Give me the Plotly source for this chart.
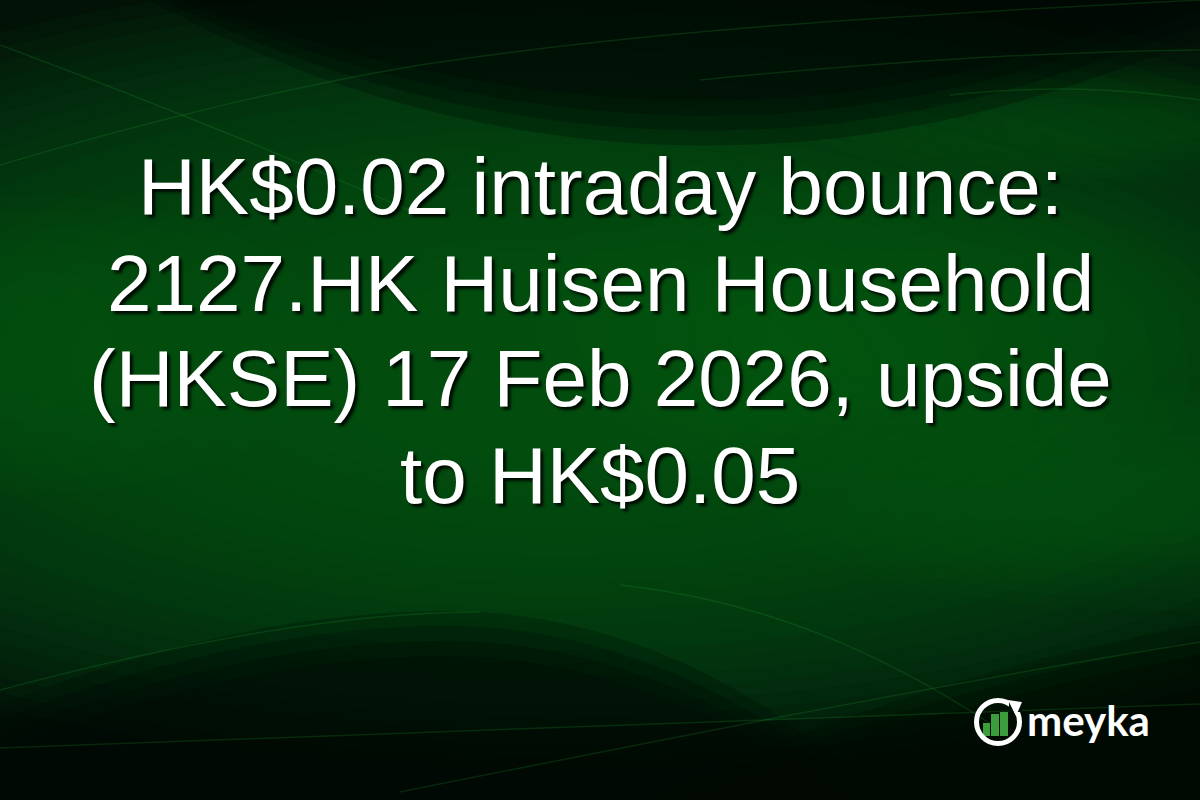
#!/usr/bin/env python3
"""
Meyka headline card: 2127.HK Huisen Household
Dark green wave background, centred headline, logo bottom right
"""

import plotly.graph_objects as go

# headline lines (one annotation per line)
headline_lines = [
    "HK$0.02 intraday bounce:",
    "2127.HK Huisen Household",
    "(HKSE) 17 Feb 2026, upside",
    "to HK$0.05",
]
# vertical centre of each line in pixels (from top)
line_y = [186, 283, 378, 475]

# logo bars (the little growth chart inside the ring)
logo_bar_x = [986.5, 995, 1004]
logo_bar_h = [13, 22, 24]
logo_text = "meyka"

W, H = 1200, 800
BASE = "#021207"

fig = go.Figure()

# logo bars, drawn as a bar trace on the pixel axes (y axis is reversed)
fig.add_trace(go.Bar(
    x=logo_bar_x,
    y=[-h for h in logo_bar_h],
    base=[736] * len(logo_bar_h),
    width=7.5,
    marker=dict(color="#3c9d3c", line=dict(width=0)),
    hoverinfo="skip",
    showlegend=False,
))

shapes = []

# soft green glow: many faint stacked ellipses so the steps blur together
n = 24
for i in range(n):
    k = 1.0 - i * 0.8 / n
    shapes.append(dict(type="circle", layer="below",
                       x0=560 - 1050 * k, x1=560 + 1050 * k,
                       y0=370 - 400 * k, y1=370 + 400 * k,
                       fillcolor="rgba(8,92,24,0.075)", line=dict(width=0)))
# brighter patches: left edge, right side, upper right band, centre right
for cx, cy, rx, ry in [(20, 345, 320, 150), (1150, 500, 380, 110),
                       (1130, 125, 320, 60), (880, 330, 380, 160)]:
    for i in range(8):
        k = 1.0 - i * 0.1
        shapes.append(dict(type="circle", layer="below",
                           x0=cx - rx * k, x1=cx + rx * k,
                           y0=cy - ry * k, y1=cy + ry * k,
                           fillcolor="rgba(12,110,30,0.045)", line=dict(width=0)))

# dark swooshes, each stacked a few times with a shift so the edge fades
for d in [0, 15, 30, 45]:
    # top right
    shapes.append(dict(type="path", layer="below", line=dict(width=0),
                       fillcolor="rgba(0,8,2,0.27)",
                       path="M %d,0 C 330,%d 560,%d 820,%d C 990,%d 1100,%d 1200,%d L 1200,0 Z"
                       % (150 + d, 100 - d, 165 - d, 140 - d, 122 - d, 75 - d, 40 - d)))
    # bottom left
    shapes.append(dict(type="path", layer="below", line=dict(width=0),
                       fillcolor="rgba(0,8,2,0.25)",
                       path="M 0,%d C 160,%d 340,%d 480,%d C 640,%d 780,%d %d,800 L 0,800 Z"
                       % (705 + d, 640 + d, 605 + d, 612 + d, 622 + d, 700 + d, 880 - d)))
for d in [0, 15, 30]:
    # bottom right
    shapes.append(dict(type="path", layer="below", line=dict(width=0),
                       fillcolor="rgba(0,8,2,0.22)",
                       path="M %d,800 C 820,%d 1000,%d 1200,%d L 1200,800 Z"
                       % (640 + d, 720 + d, 660 + d, 625 + d)))
shapes.append(dict(type="path", layer="below", fillcolor="rgba(0,8,2,0.35)", line=dict(width=0),
                   path="M 0,748 C 300,738 700,724 1200,704 L 1200,800 L 0,800 Z"))

# faint light streaks
streak = "rgba(40,160,50,0.2)"
streak_paths = [
    "M 0,45 C 120,90 250,140 420,215",
    "M 0,165 C 150,120 300,85 420,65",
    "M 420,65 C 650,30 900,15 1200,0",
    "M 700,80 C 900,60 1050,52 1200,50",
    "M 950,95 C 1050,85 1120,88 1200,100",
    "M 0,690 C 150,650 330,612 480,612",
    "M 400,792 C 650,742 950,682 1200,642",
    "M 620,585 C 760,600 880,650 1000,730",
    "M 0,748 C 300,738 700,724 1200,704",
]
for p in streak_paths:
    shapes.append(dict(type="path", layer="below", path=p,
                       line=dict(color=streak, width=1.5)))

# logo ring with arrow head
shapes.append(dict(type="circle", x0=976.5, x1=1019.5, y0=700.5, y1=743.5,
                   line=dict(color="white", width=5)))
shapes.append(dict(type="rect", x0=1009, x1=1022, y0=699, y1=712,
                   fillcolor="#031108", line=dict(width=0)))
shapes.append(dict(type="path", path="M 1008,700 L 1022,702 L 1016,716 Z",
                   fillcolor="white", line=dict(width=0)))

annotations = []
for text, y in zip(headline_lines, line_y):
    annotations.append(dict(
        x=600, y=y, xref="x", yref="y", text=text, showarrow=False,
        xanchor="center", yanchor="middle",
        font=dict(family="Liberation Sans, Arial, sans-serif", size=80, color="white",
                  shadow="3px 3px 3px rgba(0,0,0,0.85)"),
    ))
annotations.append(dict(
    x=1025, y=720, xref="x", yref="y", text="<b>" + logo_text + "</b>", showarrow=False,
    xanchor="left", yanchor="middle",
    font=dict(family="Lato, Open Sans, sans-serif", size=42, color="white"),
))

fig.update_layout(
    width=W, height=H,
    margin=dict(l=0, r=0, t=0, b=0),
    paper_bgcolor=BASE, plot_bgcolor=BASE,
    xaxis=dict(range=[0, W], visible=False, fixedrange=True),
    yaxis=dict(range=[H, 0], visible=False, fixedrange=True),
    shapes=shapes,
    annotations=annotations,
    showlegend=False,
    bargap=0,
)

fig.write_html("out.html", config={"displayModeBar": False},
               post_script="document.body.style.margin='0';document.body.style.overflow='hidden';")
